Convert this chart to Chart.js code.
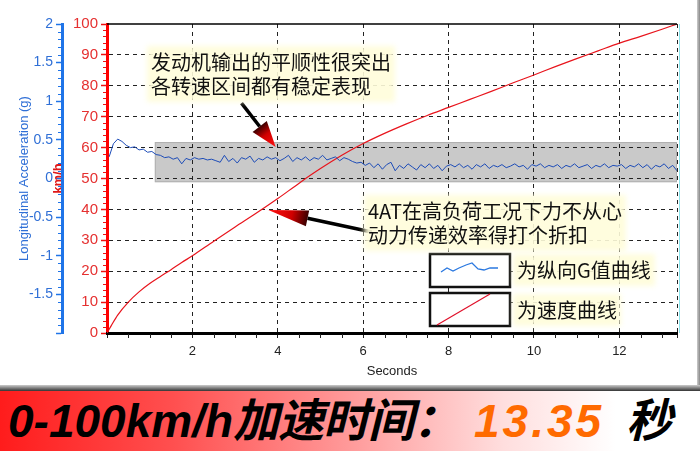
<!DOCTYPE html>
<html>
<head>
<meta charset="utf-8">
<script src="https://cdn.jsdelivr.net/npm/chart.js@4.4.0/dist/chart.umd.min.js"></script>
<style>
  html, body { margin: 0; padding: 0; background: #fff; }
  #wrap { position: relative; width: 700px; height: 451px; overflow: hidden; }
  #chart { position: absolute; left: 0; top: 0; }
  .note {
    position: absolute; font-family: "Noto Sans CJK SC", sans-serif; font-size: 20px;
    line-height: 24px; color: #111; white-space: nowrap;
    background: rgba(255, 253, 218, 0.9); box-shadow: 0 0 5px 4px rgba(255, 253, 218, 0.9);
  }
  #edge { position: absolute; left: 697px; top: 0; width: 3px; height: 388px; background: linear-gradient(to right, #ccc, #888); }
  #shade { position: absolute; left: 0; top: 385px; width: 700px; height: 6px; background: linear-gradient(to bottom, #ccc, #333); }
  #banner {
    position: absolute; left: 0; top: 391px; width: 700px; height: 60px;
    background: linear-gradient(to right, #ff1c1c 0%, #ff5050 25%, #ff9a9a 50%, #ffdede 72%, #fff 88%);
  }
  #banner span {
    position: absolute; top: 0; line-height: 60px; font-size: 46px; font-weight: bold; font-style: italic;
    font-family: "Liberation Sans", "Noto Sans CJK SC", sans-serif; color: #000; white-space: nowrap;
  }
  #banner .cjk { letter-spacing: -1px; }
</style>
</head>
<body>
<div id="wrap">
  <canvas id="chart" width="700" height="451"></canvas>
  <div id="edge"></div>
  <div class="note" style="left:151px; top:50px;">发动机输出的平顺性很突出<br>各转速区间都有稳定表现</div>
  <div class="note" style="left:368px; top:199px;">4AT在高负荷工况下力不从心<br>动力传递效率得打个折扣</div>
  <div class="note" style="left:517px; top:258px;">为纵向G值曲线</div>
  <div class="note" style="left:517px; top:298px;">为速度曲线</div>
  <div id="shade"></div>
  <div id="banner">
    <span style="left:8px;">0-100km/h<span class="cjk" style="position:static;">加速时间：</span></span>
    <span style="left:474px; color:#ff6a00; letter-spacing:3px;">13.35</span>
    <span style="left:626px;">秒</span>
  </div>
</div>
<script>
// speed curve (km/h) vs seconds
const speedTimes = [0, 0.1, 0.25, 0.5, 0.75, 1.0, 1.25, 1.5, 1.75, 2.0, 2.5, 3.0, 3.5, 4.0, 4.5, 5.0, 5.5, 6.0, 6.5, 7.0, 7.5, 8.0, 8.5, 9.0, 9.5, 10.0, 10.5, 11.0, 11.5, 12.0, 12.5, 13.0, 13.35];
const speedValues = [0, 2.4, 5.8, 10, 13.3, 16, 18.3, 20.5, 22.8, 25, 29.7, 34.3, 38.8, 43.5, 48.5, 53.2, 57.5, 61.3, 64.6, 67.6, 70.4, 73.0, 75.6, 78.2, 80.9, 83.5, 86.2, 88.8, 91.3, 93.8, 96, 98.3, 100];

// longitudinal acceleration (g), logged every 0.1 s from 0.05 s
const gStart = 0.05;
const gStep = 0.1;
const gValues = [
  0.28, 0.45, 0.51, 0.48, 0.43, 0.40, 0.41, 0.37, 0.38, 0.34, 0.35, 0.31, 0.30, 0.27, 0.28,
  0.25, 0.27, 0.19, 0.26, 0.24, 0.27, 0.25, 0.26, 0.24, 0.25, 0.23, 0.21, 0.30, 0.22, 0.26,
  0.20, 0.27, 0.25, 0.29, 0.21, 0.26, 0.24, 0.28, 0.25, 0.27, 0.23, 0.26, 0.30, 0.22, 0.27,
  0.24, 0.28, 0.23, 0.27, 0.25, 0.30, 0.24, 0.26, 0.28, 0.23, 0.27, 0.25, 0.22, 0.20, 0.21,
  0.17, 0.20, 0.14, 0.19, 0.12, 0.18, 0.21, 0.10, 0.17, 0.13, 0.19, 0.15, 0.11, 0.18, 0.14,
  0.19, 0.13, 0.17, 0.10, 0.16, 0.18, 0.15, 0.19, 0.14, 0.17, 0.12, 0.18, 0.15, 0.19, 0.13,
  0.17, 0.15, 0.18, 0.14, 0.16, 0.19, 0.15, 0.17, 0.12, 0.18, 0.16, 0.19, 0.14, 0.17, 0.15,
  0.18, 0.13, 0.17, 0.15, 0.19, 0.14, 0.16, 0.18, 0.13, 0.17, 0.15, 0.19, 0.14, 0.17, 0.16,
  0.18, 0.13, 0.17, 0.15, 0.19, 0.14, 0.18, 0.12, 0.17, 0.15, 0.19, 0.13, 0.17, 0.10
];

// highlighted band (seconds, km/h)
const bandFrom = 1.12;
const bandSpeedRange = [48.8, 61.8];

// arrows: [tailSec, tailKmh, tipSec, tipKmh]
const arrows = [
  [3.15, 74.4, 3.95, 60.2],
  [6.2, 32.7, 3.78, 39.8]
];

const FONT = '"Liberation Sans", Arial, sans-serif';

const decor = {
  id: 'decor',
  beforeDraw(chart) {
    const { ctx, chartArea: a, scales } = chart;
    const x0 = scales.x.getPixelForValue(bandFrom);
    const yTop = scales.y.getPixelForValue(bandSpeedRange[1]);
    const yBot = scales.y.getPixelForValue(bandSpeedRange[0]);
    ctx.save();
    ctx.fillStyle = '#c9c9c9';
    ctx.fillRect(x0, yTop, a.right - x0, yBot - yTop);
    ctx.strokeStyle = '#b0b0b0';
    ctx.lineWidth = 1;
    ctx.strokeRect(x0 + 0.5, yTop + 0.5, a.right - x0 - 1, yBot - yTop - 1);
    ctx.restore();
  },
  afterDraw(chart) {
    const { ctx, chartArea: a, scales } = chart;
    ctx.save();
    // top frame line and right cyan edge
    ctx.strokeStyle = '#000';
    ctx.lineWidth = 1.5;
    ctx.beginPath(); ctx.moveTo(a.left, a.top); ctx.lineTo(a.right, a.top); ctx.stroke();
    ctx.strokeStyle = '#8fe6ee';
    ctx.lineWidth = 1;
    ctx.beginPath(); ctx.moveTo(a.right + 2.5, a.top); ctx.lineTo(a.right + 2.5, a.bottom); ctx.stroke();

    // minor ticks
    const ys = scales.y, gs = scales.g, xs = scales.x;
    ctx.lineWidth = 1;
    ctx.strokeStyle = '#ee1111';
    for (let v = 2; v < 100; v += 2) {
      if (v % 10 === 0) continue;
      const p = Math.round(ys.getPixelForValue(v)) + 0.5;
      ctx.beginPath(); ctx.moveTo(ys.right - 1, p); ctx.lineTo(ys.right - 4, p); ctx.stroke();
    }
    ctx.strokeStyle = '#1f74e8';
    for (let k = -19; k < 20; k++) {
      if (k % 5 === 0) continue;
      const p = Math.round(gs.getPixelForValue(k / 10)) + 0.5;
      ctx.beginPath(); ctx.moveTo(gs.right - 1, p); ctx.lineTo(gs.right - 4, p); ctx.stroke();
    }
    ctx.strokeStyle = '#222';
    for (let k = 1; k * 0.5 < 13.35; k++) {
      if (k % 4 === 0) continue;
      const p = Math.round(xs.getPixelForValue(k * 0.5)) + 0.5;
      ctx.beginPath(); ctx.moveTo(p, a.bottom + 1); ctx.lineTo(p, a.bottom + 5); ctx.stroke();
    }

    // arrows
    arrows.forEach(([t1, v1, t2, v2], i) => {
      const x1 = xs.getPixelForValue(t1), y1 = ys.getPixelForValue(v1);
      const x2 = xs.getPixelForValue(t2), y2 = ys.getPixelForValue(v2);
      const ang = Math.atan2(y2 - y1, x2 - x1);
      const headLen = i === 0 ? 26 : 40, headW = i === 0 ? 9 : 8;
      const bx = x2 - headLen * Math.cos(ang), by = y2 - headLen * Math.sin(ang);
      ctx.strokeStyle = '#000';
      ctx.lineWidth = 3.5;
      ctx.beginPath(); ctx.moveTo(x1, y1); ctx.lineTo(bx, by); ctx.stroke();
      const nx = -Math.sin(ang) * headW, ny = Math.cos(ang) * headW;
      const grad = ctx.createLinearGradient(x2, y2, bx, by);
      grad.addColorStop(0, '#ff1010');
      grad.addColorStop(0.6, '#d00000');
      grad.addColorStop(1, '#3a0000');
      ctx.fillStyle = grad;
      ctx.beginPath();
      ctx.moveTo(x2, y2); ctx.lineTo(bx + nx, by + ny); ctx.lineTo(bx - nx, by - ny); ctx.closePath();
      ctx.fill();
    });

    // legend boxes
    ctx.fillStyle = '#fff';
    ctx.strokeStyle = '#111';
    ctx.lineWidth = 2.5;
    [[430, 254], [430, 293]].forEach(([bx, by]) => {
      ctx.fillRect(bx, by, 80, 33);
      ctx.strokeRect(bx, by, 80, 33);
    });
    ctx.strokeStyle = '#2a78e0';
    ctx.lineWidth = 1.3;
    ctx.beginPath();
    const wave = [[441, 272], [447, 268], [453, 271], [459, 268], [466, 265], [472, 263], [478, 269], [484, 270], [490, 268], [498, 268]];
    wave.forEach(([px, py], j) => j ? ctx.lineTo(px, py) : ctx.moveTo(px, py));
    ctx.stroke();
    ctx.strokeStyle = '#e0102a';
    ctx.lineWidth = 1.2;
    ctx.beginPath(); ctx.moveTo(437, 325); ctx.lineTo(490, 294); ctx.stroke();
    ctx.restore();
  }
};

new Chart(document.getElementById('chart'), {
  type: 'line',
  data: {
    datasets: [
      {
        label: '纵向G值',
        data: gValues.map((g, i) => ({ x: gStart + i * gStep, y: g })),
        yAxisID: 'g',
        borderColor: '#1d4cb8',
        borderWidth: 1,
        pointRadius: 0,
        tension: 0
      },
      {
        label: '速度',
        data: speedValues.map((v, i) => ({ x: speedTimes[i], y: v })),
        yAxisID: 'y',
        borderColor: '#e8141c',
        borderWidth: 1.2,
        pointRadius: 0,
        cubicInterpolationMode: 'monotone'
      }
    ]
  },
  options: {
    responsive: false,
    animation: false,
    layout: { padding: { left: 0, top: 24, right: 23, bottom: 70 } },
    plugins: { legend: { display: false }, tooltip: { enabled: false } },
    scales: {
      g: {
        type: 'linear', position: 'left', weight: 1, min: -2, max: 2,
        ticks: {
          stepSize: 0.5, color: '#2f6fd6', padding: 3, font: { family: FONT, size: 14 },
          callback: v => (v === -2 ? '' : String(v))
        },
        grid: { drawOnChartArea: false, tickLength: 6, tickColor: '#1f74e8', tickWidth: 1.5 },
        border: { color: '#1f74e8', width: 3 },
        title: { display: true, text: 'Longitudinal Acceleration (g)', color: '#2f6fd6', font: { family: FONT, size: 13 }, padding: { top: 17 } },
        afterFit: s => { s.width = 62; }
      },
      y: {
        type: 'linear', position: 'left', weight: 0, min: 0, max: 100,
        ticks: { stepSize: 10, color: '#e53030', padding: 3, font: { family: FONT, size: 15 } },
        grid: {
          color: c => (c.tick.value === 0 || c.tick.value === 100 ? 'rgba(0,0,0,0)' : '#222'),
          tickColor: '#ee1111', tickLength: 6, tickWidth: 1.5
        },
        border: { color: '#ff0000', width: 3, dash: [4, 4] },
        title: { display: true, text: 'km/h', color: '#e01818', font: { family: FONT, size: 13, weight: 'bold' }, padding: { top: -11 } },
        afterFit: s => { s.width = 45; }
      },
      x: {
        type: 'linear', position: 'bottom', min: 0, max: 13.35,
        ticks: {
          stepSize: 2, color: '#222', padding: 6, maxRotation: 0, autoSkip: false,
          font: { family: FONT, size: 13 },
          callback: v => (v > 0 && v % 2 === 0 ? String(v) : '')
        },
        grid: {
          color: c => (c.tick.value === 0 ? 'rgba(0,0,0,0)' : '#222'),
          tickColor: '#222', tickLength: 5
        },
        border: { color: '#000', width: 3, dash: [4, 4] },
        title: { display: true, text: 'Seconds', color: '#222', font: { family: FONT, size: 13 }, padding: { bottom: 2 } },
        afterFit: s => { s.height = 48; }
      }
    }
  },
  plugins: [decor]
});
</script>
</body>
</html>
